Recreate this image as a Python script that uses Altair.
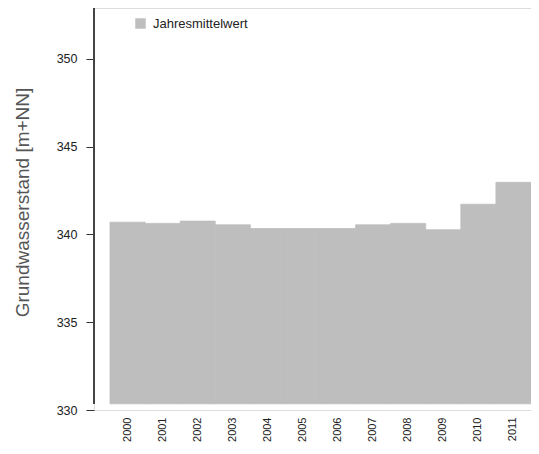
import altair as alt
import pandas as pd

years = ["2000", "2001", "2002", "2003", "2004", "2005", "2006", "2007", "2008", "2009", "2010", "2011"]
values = [340.70, 340.63, 340.76, 340.55, 340.34, 340.34, 340.34, 340.55, 340.63, 340.27, 341.72, 342.97]
series = ["Jahresmittelwert"] * len(years)
y_ticks = [330, 335, 340, 345, 350]
y_min, y_max = 330, 352.9
bar_base = 330.35

df = pd.DataFrame({"Jahr": years, "Wert": values, "Serie": series})

GRAY = "#bebebe"
FONT = "Liberation Sans"

yscale = alt.Scale(domain=[y_min, y_max], nice=False, zero=False)

bars = alt.Chart(df).mark_bar(color=GRAY, stroke=GRAY, strokeWidth=0.8, clip=True).encode(
    x=alt.X("Jahr:N", sort=years,
            scale=alt.Scale(paddingInner=0, paddingOuter=0.228, align=1),
            axis=alt.Axis(title=None, labelAngle=270, labelAlign="right", labelBaseline="middle",
                          ticks=False, domain=False, labelPadding=7, labelFontSize=11,
                          labelColor="#222", labelFont=FONT)),
    y=alt.Y("Wert:Q", scale=yscale,
            axis=alt.Axis(title="Grundwasserstand [m+NN]", values=y_ticks, domain=False,
                          tickSize=8, tickColor="#333", tickWidth=1, labelPadding=9,
                          labelFontSize=12.5, labelColor="#222", labelFont=FONT,
                          titleFontSize=19, titleFontWeight="normal", titleColor="#555",
                          titleFont=FONT, titleX=-72, titleY=194, titleAlign="center",
                          titleBaseline="middle", titleAngle=270, grid=False)),
    y2=alt.datum(bar_base),
    color=alt.Color("Serie:N", scale=alt.Scale(range=[GRAY]),
                    legend=alt.Legend(title=None, orient="none", legendX=40, legendY=9,
                                      symbolType="square", symbolSize=110, symbolStrokeWidth=0,
                                      labelFontSize=13, labelFont=FONT, labelColor="#222",
                                      labelOffset=6, padding=0)),
)

axis_line = alt.Chart(df).mark_rule(color="#444", strokeWidth=1).encode(
    x=alt.value(0),
    y=alt.datum(bar_base, scale=yscale),
    y2=alt.datum(y_max),
)

chart = alt.layer(bars, axis_line).properties(
    width=437, height=402,
    autosize=alt.AutoSizeParams(type="none"),
    padding={"left": 86, "top": 0, "right": 0, "bottom": 32},
).configure_view(strokeWidth=0).configure(background="white")

chart.save("out.html", embed_options={"renderer": "svg", "actions": False})
